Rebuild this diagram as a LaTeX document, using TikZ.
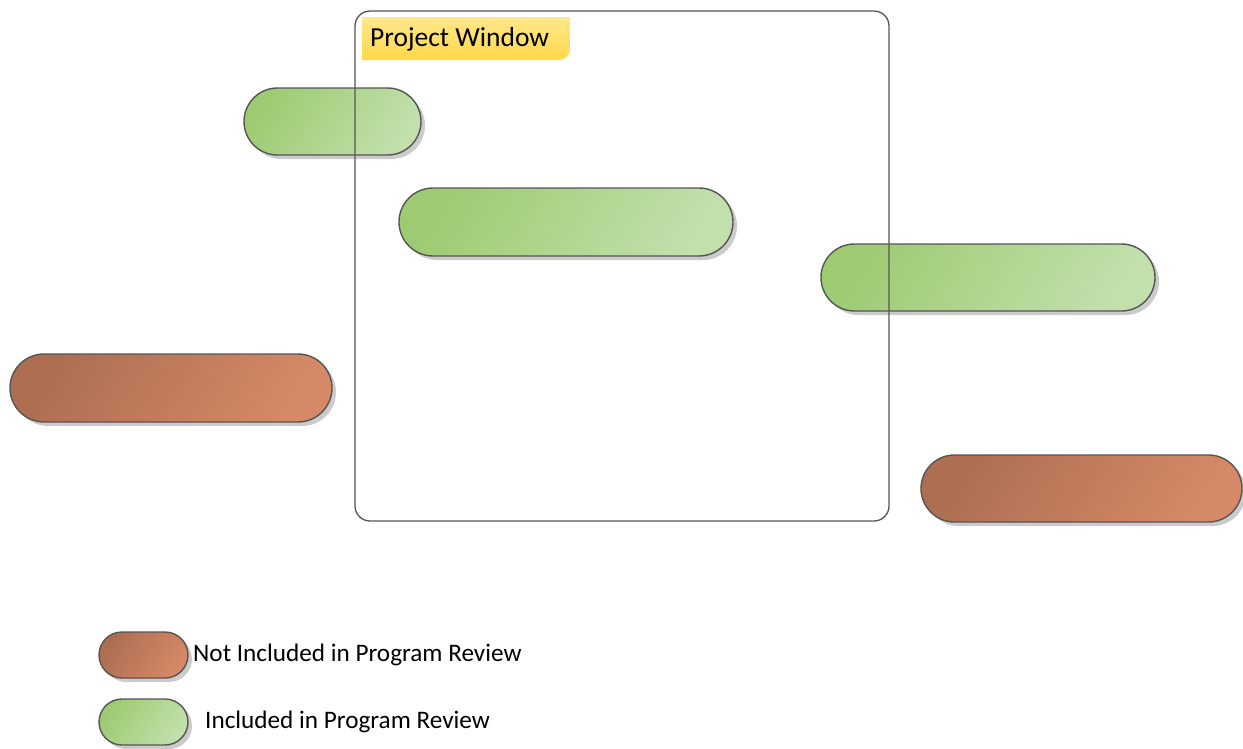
\documentclass[tikz,border=0pt]{standalone}
\usepackage{fontspec}
\setmainfont{Carlito}
\usetikzlibrary{shapes.misc,shadows}
\definecolor{edge}{RGB}{85,85,85}
\definecolor{gA}{RGB}{158,203,114}
\definecolor{gB}{RGB}{194,223,172}
\definecolor{bA}{RGB}{174,110,82}
\definecolor{bB}{RGB}{213,137,102}
\definecolor{yA}{RGB}{255,238,165}
\definecolor{yB}{RGB}{255,216,72}
\tikzset{
  pill/.style={rounded rectangle, draw=edge, line width=1.4pt, inner sep=0pt,
    drop shadow={shadow xshift=4pt, shadow yshift=-4pt, fill=black!45, opacity=.45}},
  greenpill/.style={pill, left color=gA, right color=gB, shading angle=58},
  brownpill/.style={pill, left color=bA, right color=bB, shading angle=58},
  frame/.style={draw=edge, line width=1.3pt, rounded corners=15pt, inner sep=0pt},
  legendtext/.style={anchor=west, inner sep=0pt, font=\fontsize{25.2}{29}\selectfont},
}
\begin{document}
\begin{tikzpicture}[x=1pt,y=-1pt]
\useasboundingbox (0,0) rectangle (1243,748);
% pills
\node[greenpill, minimum width=177pt, minimum height=67pt] (p1) at (332.5,121.5) {};
\node[greenpill, minimum width=334pt, minimum height=68pt] (p2) at (566,222) {};
\node[greenpill, minimum width=334pt, minimum height=67pt] (p3) at (988,277.5) {};
\node[brownpill, minimum width=322pt, minimum height=68pt] (p4) at (171,388) {};
\node[brownpill, minimum width=321pt, minimum height=67pt] (p5) at (1081.5,488.5) {};
% project window label background
\begin{scope}
  \clip (362,17) rectangle (570,60);
  \shade[top color=yA, bottom color=yB, rounded corners=11pt] (330,0) rectangle (570,60);
\end{scope}
\node[anchor=west, inner sep=0pt, font=\fontsize{27.5}{31}\selectfont] (wlabel) at (370,39) {Project Window};
% frame
\node[frame, minimum width=534pt, minimum height=510pt] (window) at (622,266) {};
% legend
\node[brownpill, minimum width=89pt, minimum height=46pt] (lg1) at (143.5,655) {};
\node[legendtext] (lt1) at (193,655) {Not Included in Program Review};
\node[greenpill, minimum width=89pt, minimum height=46pt] (lg2) at (143.5,722) {};
\node[legendtext] (lt2) at (205,722) {Included in Program Review};
\end{tikzpicture}
\end{document}
